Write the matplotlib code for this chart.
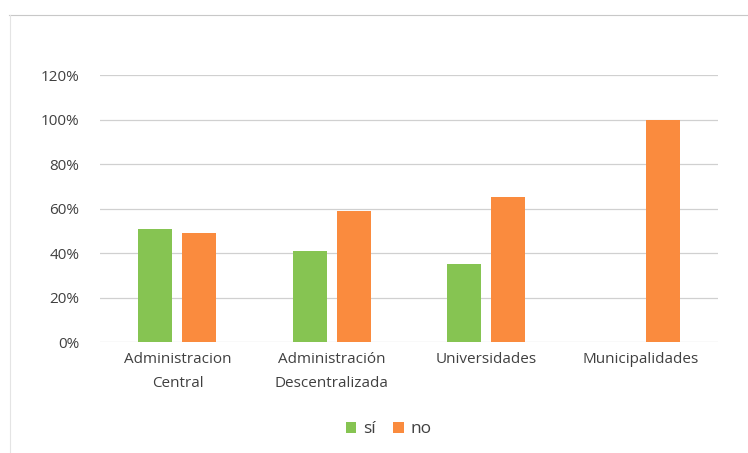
import numpy as np
import matplotlib
matplotlib.use('Agg')
import matplotlib.pyplot as plt
from matplotlib.ticker import PercentFormatter

categories = ['Administracion\nCentral', 'Administración\nDescentralizada',
              'Universidades', 'Municipalidades']
si_values = [0.51, 0.41, 0.35, 0.0]
no_values = [0.49, 0.59, 0.65, 1.00]
series_names = ['sí', 'no']
yticks = [0, 0.2, 0.4, 0.6, 0.8, 1.0, 1.2]

green = '#86c452'
orange = '#fa8b3e'
textColor = '#404040'

plt.rcParams['font.family'] = ['Open Sans', 'DejaVu Sans']

fig = plt.figure(figsize=(7.48, 4.53), dpi=100)
ax = fig.add_axes([0.134, 0.245, 0.826, 0.589])

x = np.arange(len(categories))
w = 0.22
gap = 0.065
ax.bar(x - (w + gap) / 2, si_values, w, color=green, label=series_names[0], zorder=3)
ax.bar(x + (w + gap) / 2, no_values, w, color=orange, label=series_names[1], zorder=3)

ax.set_xlim(-0.5, len(categories) - 0.5)
ax.set_ylim(0, 1.2)
ax.set_yticks(yticks)
ax.yaxis.set_major_formatter(PercentFormatter(1.0, decimals=0))
ax.set_xticks(x)
ax.set_xticklabels(categories, linespacing=1.8)
ax.tick_params(axis='both', length=0, labelsize=11, colors=textColor)
ax.tick_params(axis='x', pad=7)
ax.tick_params(axis='y', pad=15)
ax.grid(axis='y', color='#d0d0d0', linewidth=0.9, zorder=0)
for s in ax.spines.values():
    s.set_visible(False)

# chart border remnants from the scan
fig.add_artist(plt.Line2D([0.012, 1.0], [0.967, 0.967], color='#c8c8c8', lw=0.8))
fig.add_artist(plt.Line2D([0.013, 0.013], [0.0, 0.967], color='#e4e4e4', lw=0.8))

fig.legend(loc='lower center', bbox_to_anchor=(0.52, 0.0), ncol=2, frameon=False,
           fontsize=12.5, handlelength=0.6, handleheight=0.6, handletextpad=0.4,
           columnspacing=1.0, labelcolor=textColor)

fig.savefig('out.png', dpi=100, facecolor='white')
